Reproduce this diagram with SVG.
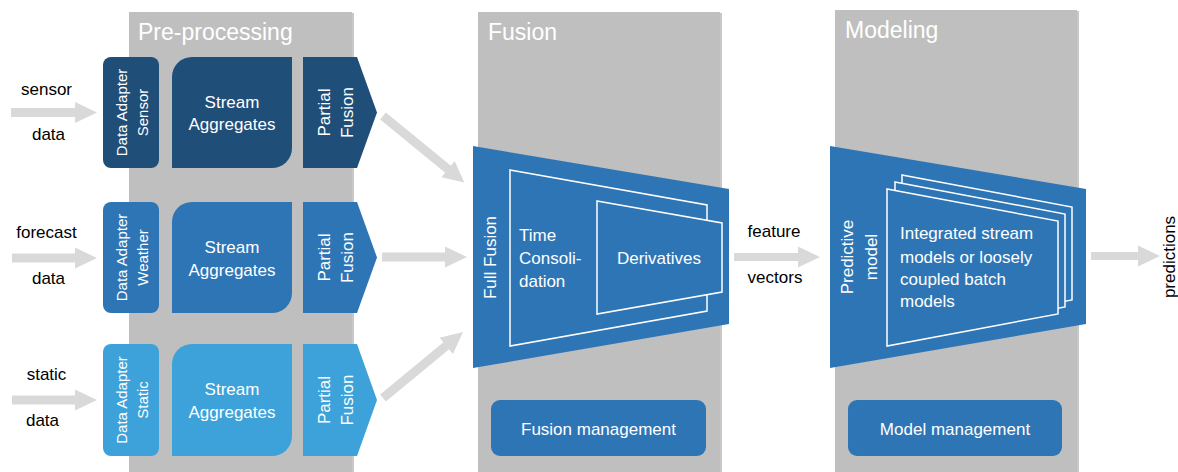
<svg xmlns="http://www.w3.org/2000/svg" width="1178" height="472" viewBox="0 0 1178 472">
<style>
.panel{fill:#BFBFBF}
.shadow{fill:#9A9A9A;opacity:0.55}
.title{font-family:"Liberation Sans",Arial,sans-serif;font-size:23px;fill:#FFFFFF}
.w{font-family:"Liberation Sans",Arial,sans-serif;font-size:17px;fill:#FFFFFF}
.ws{font-family:"Liberation Sans",Arial,sans-serif;font-size:15px;fill:#FFFFFF}
.k{font-family:"Liberation Sans",Arial,sans-serif;font-size:17px;fill:#000000}
.c1{fill:#1F4E79}
.c2{fill:#2E75B6}
.c3{fill:#3DA2D9}
.outline{stroke:#FFFFFF;stroke-width:1.5}
.arr{fill:#D9D9D9}
</style>
<rect width="1178" height="472" fill="#FFFFFF"/>
<g id="panel-preprocessing">
<rect class="shadow" x="352" y="13" width="2" height="459"/>
<rect class="panel" x="129" y="12" width="223" height="460"/>
<text class="title" x="138" y="40">Pre-processing</text>
</g>
<g id="panel-fusion">
<rect class="shadow" x="720" y="13" width="2" height="459"/>
<rect class="panel" x="478" y="12" width="242" height="460"/>
<text class="title" x="488" y="40">Fusion</text>
</g>
<g id="panel-modeling">
<rect class="shadow" x="1077" y="11" width="2" height="461"/>
<rect class="panel" x="835" y="10" width="242" height="462"/>
<text class="title" x="845" y="38">Modeling</text>
</g>
<g id="connectors">
<polygon class="arr" points="11,108 75,108 75,102 97,112.5 75,123 75,117 11,117"/>
<polygon class="arr" points="12,253.5 75,253.5 75,247.5 97,258 75,268.5 75,262.5 12,262.5"/>
<polygon class="arr" points="12,395.5 75,395.5 75,389.5 97,400 75,410.5 75,404.5 12,404.5"/>
<polygon class="arr" points="0,-4.5 84,-4.5 84,-10.5 105,0 84,10.5 84,4.5 0,4.5" transform="translate(383,116) rotate(39.25)"/>
<polygon class="arr" points="382,252.5 445,252.5 445,246.5 467,257 445,267.5 445,261.5 382,261.5"/>
<polygon class="arr" points="0,-4.5 82,-4.5 82,-10.5 103.7,0 82,10.5 82,4.5 0,4.5" transform="translate(383,398) rotate(-39.5)"/>
<polygon class="arr" points="734,253 798,253 798,246.5 820,257 798,267.5 798,261 734,261"/>
<polygon class="arr" points="1091,252 1138,252 1138,245.5 1160,256 1138,266.5 1138,260 1091,260"/>
</g>
<g id="labels-inputs">
<text class="k" x="46.5" y="95" text-anchor="middle">sensor</text>
<text class="k" x="48.5" y="140" text-anchor="middle">data</text>
<text class="k" x="46.5" y="238" text-anchor="middle">forecast</text>
<text class="k" x="48.5" y="284" text-anchor="middle">data</text>
<text class="k" x="46.5" y="380" text-anchor="middle">static</text>
<text class="k" x="42.5" y="426" text-anchor="middle">data</text>
<text class="k" x="774" y="237" text-anchor="middle">feature</text>
<text class="k" x="775" y="283" text-anchor="middle">vectors</text>
<text class="k" transform="translate(1175,257) rotate(-90)" text-anchor="middle">predictions</text>
</g>
<g id="adapter-sensor">
<rect class="c1" x="103" y="57" width="56" height="111" rx="8"/>
<text class="ws" transform="translate(127,112.5) rotate(-90)" text-anchor="middle">Data Adapter</text>
<text class="ws" transform="translate(148,112.5) rotate(-90)" text-anchor="middle">Sensor</text>
</g>
<g id="aggregates-sensor">
<path class="c1" d="M192,57 H292 V148 A20,20 0 0 1 272,168 H172 V77 A20,20 0 0 1 192,57 Z"/>
<text class="w" x="232" y="108" text-anchor="middle">Stream</text>
<text class="w" x="232" y="130" text-anchor="middle">Aggregates</text>
</g>
<g id="partial-sensor">
<polygon class="c1" points="303,57 357,57 377,112.5 357,168 303,168"/>
<text class="w" transform="translate(330,112.5) rotate(-90)" text-anchor="middle">Partial</text>
<text class="w" transform="translate(353,112.5) rotate(-90)" text-anchor="middle">Fusion</text>
</g>
<g id="adapter-weather">
<rect class="c2" x="103" y="202" width="56" height="111" rx="8"/>
<text class="ws" transform="translate(127,257.5) rotate(-90)" text-anchor="middle">Data Adapter</text>
<text class="ws" transform="translate(148,257.5) rotate(-90)" text-anchor="middle">Weather</text>
</g>
<g id="aggregates-weather">
<path class="c2" d="M192,202 H292 V293 A20,20 0 0 1 272,313 H172 V222 A20,20 0 0 1 192,202 Z"/>
<text class="w" x="232" y="253" text-anchor="middle">Stream</text>
<text class="w" x="232" y="276" text-anchor="middle">Aggregates</text>
</g>
<g id="partial-weather">
<polygon class="c2" points="303,202 357,202 377,257.5 357,313 303,313"/>
<text class="w" transform="translate(330,257.5) rotate(-90)" text-anchor="middle">Partial</text>
<text class="w" transform="translate(353,257.5) rotate(-90)" text-anchor="middle">Fusion</text>
</g>
<g id="adapter-static">
<rect class="c3" x="103" y="344" width="56" height="112" rx="8"/>
<text class="ws" transform="translate(127,400) rotate(-90)" text-anchor="middle">Data Adapter</text>
<text class="ws" transform="translate(148,400) rotate(-90)" text-anchor="middle">Static</text>
</g>
<g id="aggregates-static">
<path class="c3" d="M192,344 H292 V436 A20,20 0 0 1 272,456 H172 V364 A20,20 0 0 1 192,344 Z"/>
<text class="w" x="232" y="395" text-anchor="middle">Stream</text>
<text class="w" x="232" y="418" text-anchor="middle">Aggregates</text>
</g>
<g id="partial-static">
<polygon class="c3" points="303,344 357,344 377,400 357,456 303,456"/>
<text class="w" transform="translate(330,400) rotate(-90)" text-anchor="middle">Partial</text>
<text class="w" transform="translate(353,400) rotate(-90)" text-anchor="middle">Fusion</text>
</g>
<g id="full-fusion">
<polygon class="c2" points="473,146 729,189 729,324 473,368"/>
<text class="w" transform="translate(496,257.5) rotate(-90)" text-anchor="middle">Full Fusion</text>
<polygon class="c2 outline" points="510,170 707,205 707,311 510,346"/>
<text class="w" x="519" y="241">Time</text>
<text class="w" x="519" y="264">Consoli-</text>
<text class="w" x="519" y="287">dation</text>
<polygon class="c2 outline" points="597,201 722,223 722,292 597,314"/>
<text class="w" x="659" y="264" text-anchor="middle">Derivatives</text>
</g>
<g id="fusion-management">
<rect class="c2" x="491" y="400" width="215" height="56" rx="9"/>
<text class="w" x="598.5" y="435" text-anchor="middle">Fusion management</text>
</g>
<g id="predictive-model">
<polygon class="c2" points="830,146 1086,189 1086,324 830,368"/>
<text class="w" transform="translate(853,257) rotate(-90)" text-anchor="middle">Predictive</text>
<text class="w" transform="translate(877,257) rotate(-90)" text-anchor="middle">model</text>
<polygon class="c2 outline" points="902,175 1072,207 1072,300 902,332"/>
<polygon class="c2 outline" points="895,182 1065,214 1065,307 895,339"/>
<polygon class="c2 outline" points="887,189 1058,221 1058,314 887,346"/>
<text class="w" x="900" y="239">Integrated stream</text>
<text class="w" x="900" y="263">models or loosely</text>
<text class="w" x="900" y="285">coupled batch</text>
<text class="w" x="900" y="307">models</text>
</g>
<g id="model-management">
<rect class="c2" x="848" y="400" width="214" height="56" rx="9"/>
<text class="w" x="955" y="435" text-anchor="middle">Model management</text>
</g>
</svg>
